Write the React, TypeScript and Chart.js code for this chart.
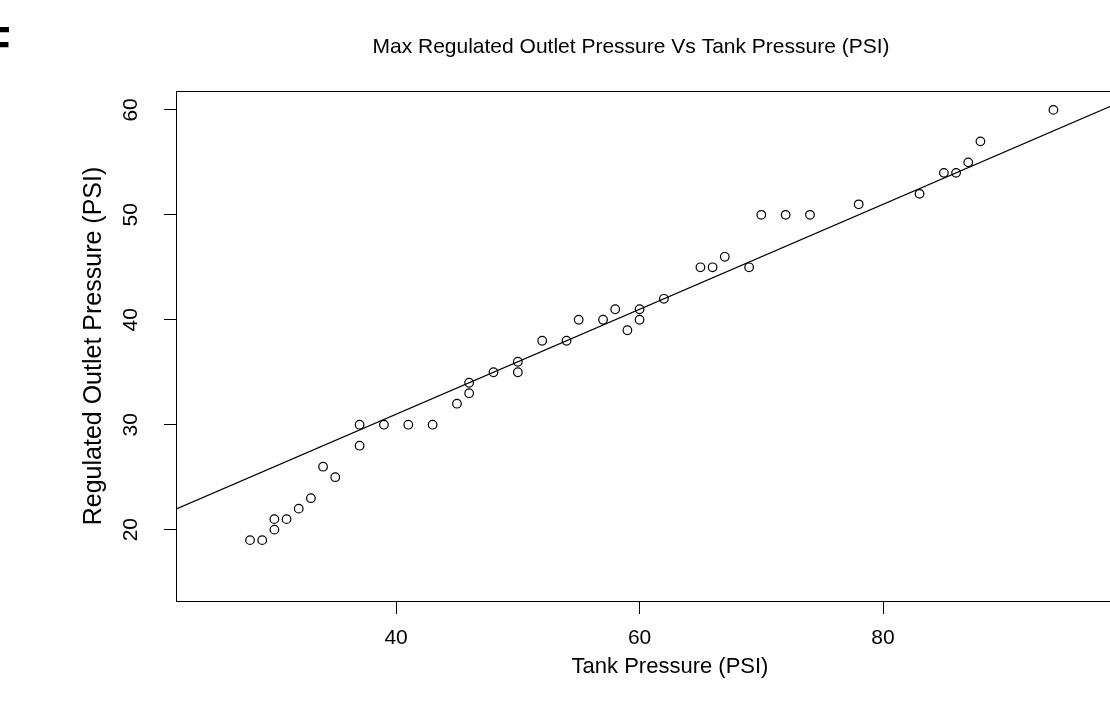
import React, { useEffect, useRef } from "react";
import { Chart, registerables } from "chart.js";

Chart.register(...registerables);

// ---- data ----
const tankPressure = [
  28, 29, 30, 30, 31, 32, 33, 34, 35, 37, 37, 39, 41, 43, 45, 46, 46, 48, 50, 50, 52, 54,
  55, 57, 58, 59, 60, 60, 62, 65, 66, 67, 69, 70, 72, 74, 78, 83, 85, 86, 87, 88, 94,
];
const outletPressure = [
  19, 19, 20, 21, 21, 22, 23, 26, 25, 28, 30, 30, 30, 30, 32, 33, 34, 35, 35, 36, 38, 38,
  40, 40, 41, 39, 40, 41, 42, 45, 45, 46, 45, 50, 50, 50, 51, 52, 54, 54, 55, 57, 60,
];
// fitted regression line, end points
const fitLineX = [22, 103];
const fitLineY = [22, 62.5];

const xTickValues = [40, 60, 80, 100];
const yTickValues = [20, 30, 40, 50, 60];

const chartTitle = "Max Regulated Outlet Pressure Vs Tank Pressure (PSI)";
const xAxisTitle = "Tank Pressure (PSI)";
const yAxisTitle = "Regulated Outlet Pressure (PSI)";
const panelLetter = "F";

const FONT = "'Liberation Sans', Arial, Helvetica, sans-serif";

const plotBox = {
  id: "plotBox",
  afterDatasetsDraw(chart: any) {
    const { ctx, chartArea: a } = chart;
    ctx.save();
    ctx.strokeStyle = "#000";
    ctx.lineWidth = 1;
    const l = Math.round(a.left) - 0.5;
    const t = Math.round(a.top) + 0.5;
    const r = Math.round(a.right) + 0.5;
    const b = Math.round(a.bottom) + 0.5;
    ctx.strokeRect(l, t, r - l, b - t);
    ctx.restore();
  },
};

export default function App() {
  const ref = useRef<HTMLCanvasElement | null>(null);

  useEffect(() => {
    if (!ref.current) return;
    const points = tankPressure.map((x, i) => ({ x, y: outletPressure[i] }));
    const line = fitLineX.map((x, i) => ({ x, y: fitLineY[i] }));
    const chart = new Chart(ref.current, {
      type: "scatter",
      data: {
        datasets: [
          {
            label: "fit",
            data: line,
            showLine: true,
            borderColor: "#000",
            borderWidth: 1.2,
            pointRadius: 0,
            fill: false,
            xAxisID: "x",
            yAxisID: "y",
          },
          {
            label: "observations",
            data: points,
            pointStyle: "circle",
            pointRadius: 4.3,
            pointBorderWidth: 1.2,
            pointBackgroundColor: "rgba(0,0,0,0)",
            pointBorderColor: "#000",
            xAxisID: "x",
            yAxisID: "y",
          },
        ],
      },
      options: {
        responsive: false,
        animation: false,
        events: [],
        layout: { padding: 0 },
        plugins: {
          legend: { display: false },
          tooltip: { enabled: false },
          title: {
            display: true,
            text: chartTitle,
            color: "#000",
            font: { family: FONT, size: 21, weight: "normal" },
            padding: { top: 34.9, bottom: 30.9 },
            fullSize: true,
          },
        },
        scales: {
          x: {
            type: "linear",
            position: "bottom",
            min: 22,
            max: 103,
            afterBuildTicks: (s: any) => {
              s.ticks = xTickValues.map((v) => ({ value: v }));
            },
            afterFit: (s: any) => {
              s.height = 112;
            },
            ticks: {
              color: "#000",
              font: { family: FONT, size: 21 },
              padding: 11.4,
              maxRotation: 0,
              minRotation: 0,
            },
            grid: {
              drawOnChartArea: false,
              drawTicks: true,
              tickLength: 13,
              color: "#000",
              lineWidth: 1,
            },
            border: { display: false },
            title: {
              display: true,
              text: xAxisTitle,
              color: "#000",
              font: { family: FONT, size: 22 },
              padding: { top: 0, bottom: 32.8 },
            },
          },
          y: {
            type: "linear",
            position: "left",
            min: 13.2,
            max: 61.8,
            afterBuildTicks: (s: any) => {
              s.ticks = yTickValues.map((v) => ({ value: v }));
            },
            afterFit: (s: any) => {
              s.width = 177;
            },
            ticks: {
              color: "#000",
              font: { family: FONT, size: 21 },
              padding: 21,
              minRotation: 90,
              maxRotation: 90,
              crossAlign: "center",
            },
            grid: {
              drawOnChartArea: false,
              drawTicks: true,
              tickLength: 13,
              color: "#000",
              lineWidth: 1,
            },
            border: { display: false },
            title: {
              display: true,
              text: yAxisTitle,
              color: "#000",
              font: { family: FONT, size: 25 },
              padding: { top: 79, bottom: 0 },
            },
          },
          yRight: {
            type: "linear",
            position: "right",
            display: true,
            afterFit: (s: any) => {
              s.width = 99;
            },
            ticks: { display: false },
            grid: { display: false, drawTicks: false },
            border: { display: false },
          },
        },
      },
      plugins: [plotBox],
    });
    return () => chart.destroy();
  }, []);

  return (
    <div
      style={{
        position: "absolute",
        left: 0,
        top: 0,
        width: 1110,
        height: 713,
        overflow: "hidden",
        background: "#fff",
      }}
    >
      <canvas ref={ref} width={1262} height={713} style={{ display: "block" }} />
      <div
        style={{
          position: "absolute",
          left: -18,
          top: 19,
          fontFamily: FONT,
          fontWeight: "bold",
          fontSize: 47,
          lineHeight: "47px",
          color: "#000",
        }}
      >
        {panelLetter}
      </div>
    </div>
  );
}
